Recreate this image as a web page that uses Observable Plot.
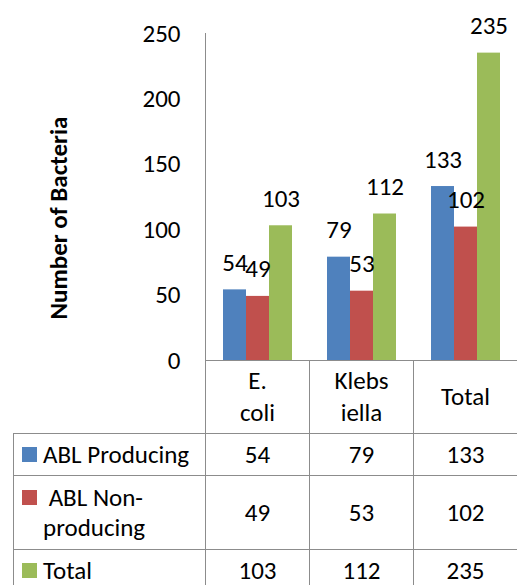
<!DOCTYPE html>
<html><head><meta charset="utf-8">
<script src="https://cdn.jsdelivr.net/npm/d3@7"></script>
<script src="https://cdn.jsdelivr.net/npm/@observablehq/plot@0.6"></script>
<style>
body{margin:0;background:#fff;font-family:Carlito,Calibri,Lato,sans-serif;color:#000;}
#chart svg{overflow:visible;display:block}
table{border-collapse:collapse;table-layout:fixed;margin-left:13px;width:504px;font-size:25px;color:#000}
td{border:1px solid #8c8c8c;text-align:center;padding:0;line-height:30px;vertical-align:middle}
td.blank{border:none}
td.hdr{line-height:32px}
td.lab{text-align:left;padding-left:8px}
.lab .wrap{display:flex;align-items:flex-start}
.key{display:inline-block;width:15px;height:15px;margin:7px 6px 0 0;flex:none}
</style></head><body><div id="chart"></div><div id="table"></div>
<script>
const categories = ["E. coli", "Klebsiella", "Total"];
const categoryLines = [["E.", "coli"], ["Klebs", "iella"], ["Total"]];
const seriesNames = ["ABL Producing", "ABL Non-producing", "Total"];
const seriesLines = [["ABL Producing"], ["\u00a0ABL Non-", "producing"], ["Total"]];
const producing = [54, 79, 133];
const nonProducing = [49, 53, 102];
const totals = [103, 112, 235];
const colors = ["#4F81BD", "#C0504D", "#9BBB59"];
const yTicks = [0, 50, 100, 150, 200, 250];
const yLabel = "Number of Bacteria";

const seriesValues = [producing, nonProducing, totals];
const data = categories.flatMap((c, i) => seriesValues.map((arr, j) => ({category: c, series: seriesNames[j], value: arr[i]})));
const font = "Carlito, Calibri, Lato, sans-serif";

const plot = Plot.plot({
  width: 517, height: 360,
  marginLeft: 205, marginRight: 0, marginTop: 33, marginBottom: 0,
  style: {fontFamily: font, fontSize: "25px", color: "#000", overflow: "visible", background: "transparent"},
  fx: {domain: categories, padding: 0, axis: null},
  x: {domain: seriesNames, paddingInner: 0, paddingOuter: 0.74, axis: null},
  y: {domain: [0, 250], axis: null},
  color: {domain: seriesNames, range: colors},
  marks: [
    Plot.barY(data, {fx: "category", x: "series", y: "value", fill: "series"}),
    Plot.text(data, {fx: "category", x: "series", y: "value", text: d => String(d.value), dy: -27, fontSize: 25, fill: "#000"}),
    Plot.axisY({ticks: yTicks, tickSize: 0, tickPadding: 25, label: null, fontSize: 25, fill: "#000"}),
    Plot.frame({anchor: "left", facetAnchor: "left", stroke: "#8c8c8c"}),
    Plot.text([yLabel], {fx: [categories[0]], frameAnchor: "left", textAnchor: "middle", text: d => d, rotate: -90, dx: -147, dy: 21, fontSize: 25, fontWeight: "bold", fill: "#000"})
  ]
});
document.getElementById("chart").appendChild(plot);

// data table below
const table = document.createElement("table");
const colg = document.createElement("colgroup");
[192, 104, 104, 104].forEach(w => { const c = document.createElement("col"); c.style.width = w + "px"; colg.appendChild(c); });
table.appendChild(colg);
const hr = table.insertRow();
hr.style.height = "73px";
const blank = hr.insertCell(); blank.className = "blank";
categoryLines.forEach(lines => { const td = hr.insertCell(); td.className = "hdr"; td.innerHTML = lines.join("<br>"); });
const rowHeights = [42, 74, 42];
seriesNames.forEach((s, j) => {
  const tr = table.insertRow();
  tr.style.height = rowHeights[j] + "px";
  const lab = tr.insertCell(); lab.className = "lab";
  const wrap = document.createElement("div"); wrap.className = "wrap";
  const key = document.createElement("span"); key.className = "key"; key.style.background = colors[j];
  const txt = document.createElement("div"); txt.innerHTML = seriesLines[j].join("<br>");
  wrap.appendChild(key); wrap.appendChild(txt); lab.appendChild(wrap);
  seriesValues[j].forEach(v => { const td = tr.insertCell(); td.textContent = v; });
});
document.getElementById("table").appendChild(table);
</script>
</body></html>
